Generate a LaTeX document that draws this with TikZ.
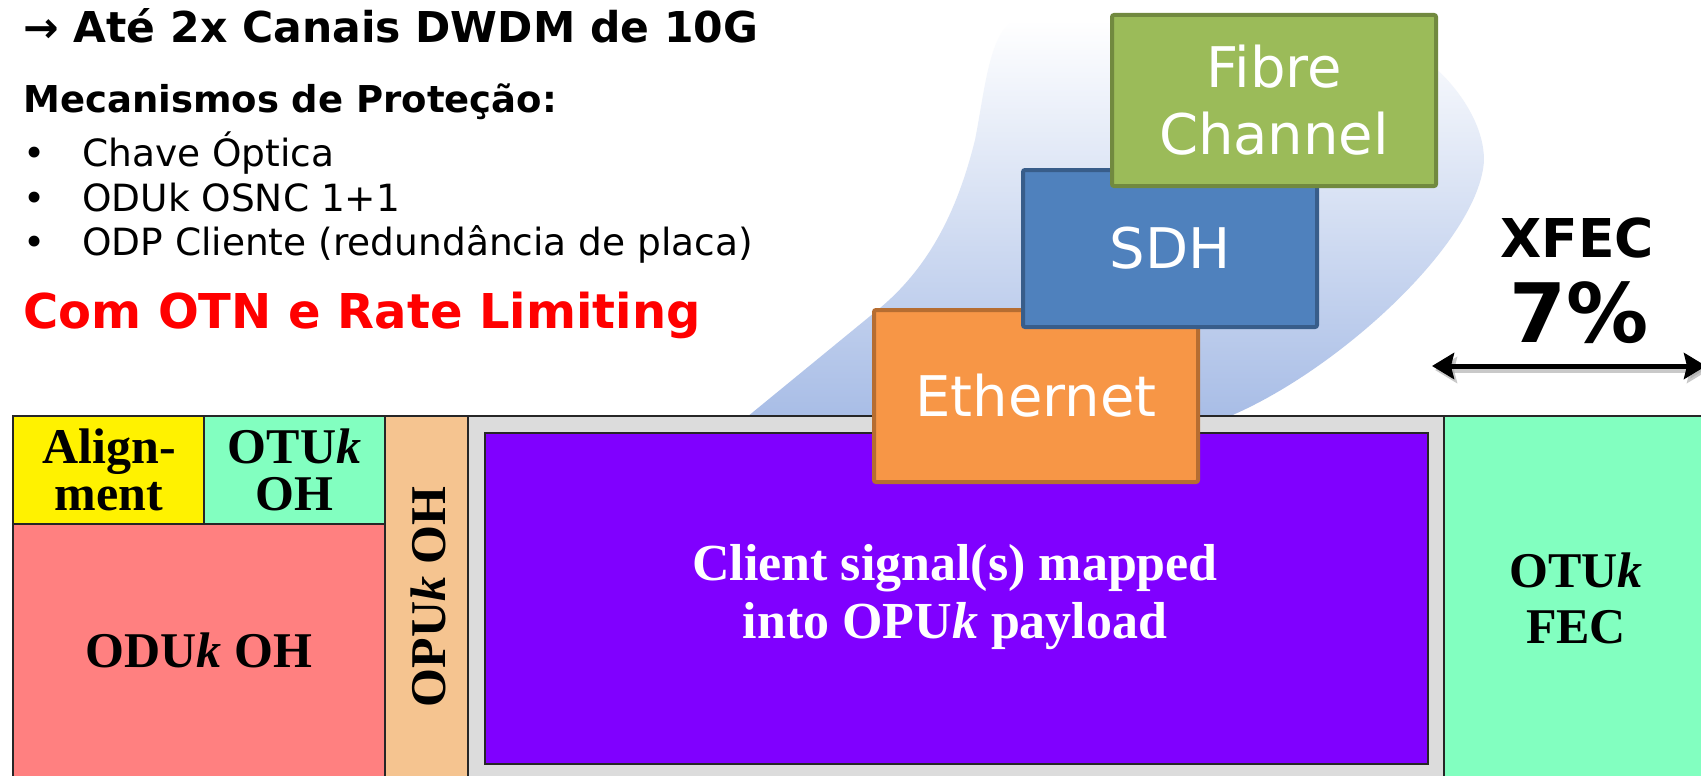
\documentclass[tikz,border=0pt]{standalone}
\usepackage{fontspec}
\setmainfont{DejaVu Sans}
\newfontfamily\tnr{Liberation Serif}
\usetikzlibrary{arrows.meta}
\definecolor{swbot}{RGB}{168,189,230}
\definecolor{fcfill}{HTML}{9BBB59}
\definecolor{fcdraw}{HTML}{71893F}
\definecolor{sdhfill}{HTML}{4F81BD}
\definecolor{sdhdraw}{HTML}{385D8A}
\definecolor{ethfill}{HTML}{F79646}
\definecolor{ethdraw}{HTML}{B66D31}
\definecolor{alignc}{HTML}{FFF200}
\definecolor{otuc}{HTML}{82FFC0}
\definecolor{oduc}{HTML}{FF8080}
\definecolor{opuc}{HTML}{F5C490}
\definecolor{grayc}{HTML}{DCDCDC}
\definecolor{purplec}{HTML}{8000FF}
\definecolor{redc}{HTML}{FF0000}
\tikzset{
  lefttxt/.style={anchor=base west, inner sep=0pt},
  ctxt/.style={anchor=base, inner sep=0pt},
  cell/.style={draw=black!85, line width=1.5pt},
  layer/.style={line width=4pt, rounded corners=2pt, text=white, inner sep=0pt,
    align=center, font=\fontsize{56}{67}\selectfont},
  tt/.style={ctxt, text=black, font=\tnr\bfseries\fontsize{50}{58}\selectfont},
  bigarrow/.style={line width=5pt, {Stealth[length=22pt,width=26pt,inset=3pt]}-{Stealth[length=22pt,width=26pt,inset=3pt]}},
}
\begin{document}
\begin{tikzpicture}[x=1pt,y=-1pt]
\clip (0,0) rectangle (1701,776);
\fill[white] (0,0) rectangle (1701,776);
% swoosh
\shade[top color=white, bottom color=swbot]
  (747,417) -- (880,308) .. controls (935,262) and (960,200) .. (975,140)
  .. controls (985,90) and (990,22) .. (1020,20) -- (1330,20)
  .. controls (1410,25) and (1484,100) .. (1484,160)
  .. controls (1480,240) and (1340,370) .. (1228,417) -- cycle;
% frame
\filldraw[cell, fill=grayc] (468,416) rectangle (1444,790);
\filldraw[cell, fill=purplec] (485,433) rectangle (1428,764);
\filldraw[cell, fill=otuc] (1444,416) rectangle (1720,790);
\filldraw[cell, fill=alignc] (13,416) rectangle (204,524);
\filldraw[cell, fill=otuc] (204,416) rectangle (385,524);
\filldraw[cell, fill=oduc] (13,524) rectangle (385,790);
\filldraw[cell, fill=opuc] (385,416) rectangle (468,790);
% frame texts
\node[tt] (al1) at (109,463) {Align-};
\node[tt] (al2) at (109,510) {ment};
\node[tt] (oh1) at (294.5,463) {OTU{\itshape k}};
\node[tt] (oh2) at (294.5,510) {OH};
\node[tt] (odu) at (199,667) {ODU{\itshape k} OH};
\node[tt, rotate=90] (opu) at (445,597) {OPU{\itshape k} OH};
\node[tt, text=white, font=\tnr\bfseries\fontsize{52}{58}\selectfont] (cl1) at (955,580) {Client signal(s) mapped};
\node[tt, text=white, font=\tnr\bfseries\fontsize{52}{58}\selectfont] (cl2) at (955,638) {into OPU{\itshape k} payload};
\node[tt] (fec1) at (1576,587) {OTU{\itshape k}};
\node[tt] (fec2) at (1576,643) {FEC};
% layers
\node[layer, draw=ethdraw, fill=ethfill, minimum width=324pt, minimum height=172pt] (eth) at (1036,396) {Ethernet};
\node[layer, draw=sdhdraw, fill=sdhfill, minimum width=294pt, minimum height=157pt] (sdh) at (1170,248.5) {SDH};
\node[layer, draw=fcdraw, fill=fcfill, minimum width=324pt, minimum height=171pt] (fc) at (1274,100.5) {Fibre\\Channel};
% left text
\node[lefttxt, font=\bfseries\fontsize{42.5}{49}\selectfont] (title) at (23,43) {→ Até 2x Canais DWDM de 10G};
\node[lefttxt, font=\bfseries\fontsize{37}{44}\selectfont] (mec) at (23,112) {Mecanismos de Proteção:};
\node[lefttxt, font=\fontsize{37.5}{42}\selectfont] (b1) at (23,166) {•};
\node[lefttxt, font=\fontsize{37.5}{42}\selectfont] (t1) at (82,166) {Chave Óptica};
\node[lefttxt, font=\fontsize{37.5}{42}\selectfont] (b2) at (23,211) {•};
\node[lefttxt, font=\fontsize{37.5}{42}\selectfont] (t2) at (82,211) {ODUk OSNC 1+1};
\node[lefttxt, font=\fontsize{37.5}{42}\selectfont] (b3) at (23,255) {•};
\node[lefttxt, font=\fontsize{37.5}{42}\selectfont] (t3) at (82,255) {ODP Cliente (redundância de placa)};
\node[lefttxt, text=redc, font=\bfseries\fontsize{48}{58}\selectfont] (red) at (23,328) {Com OTN e Rate Limiting};
% XFEC
\node[ctxt, font=\bfseries\fontsize{53.5}{60}\selectfont] (xfec) at (1577,257) {XFEC};
\node[ctxt, font=\bfseries\fontsize{82}{88}\selectfont] (pct) at (1579,342) {7\%};
\coordinate (al) at (1432,366);
\coordinate (ar) at (1706,366);
\coordinate (als) at (1435,370);
\coordinate (ars) at (1709,370);
\draw[bigarrow, draw=black!35, opacity=0.6] (als) -- (ars);
\draw[bigarrow] (al) -- (ar);
\end{tikzpicture}
\end{document}
